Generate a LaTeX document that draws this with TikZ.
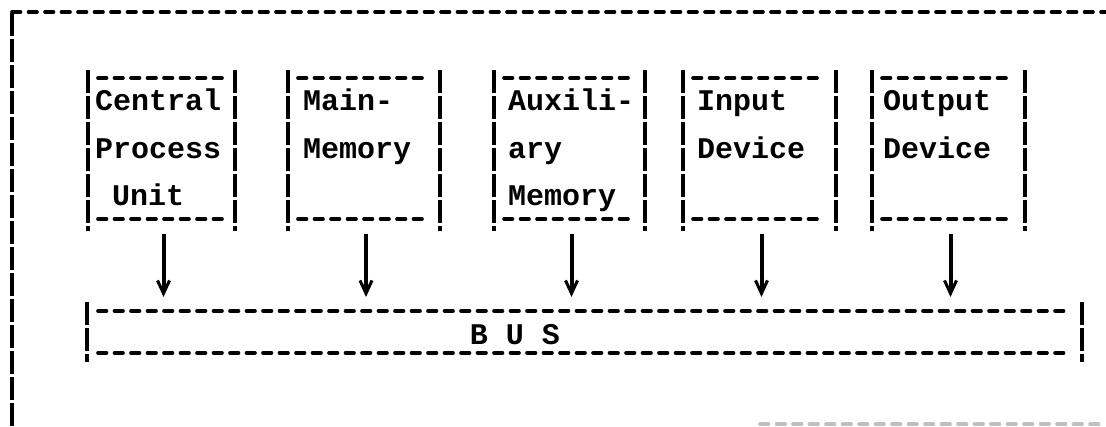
\documentclass[tikz,border=0pt]{standalone}
\usepackage{fontspec}
\setmonofont{Liberation Mono}
\usetikzlibrary{arrows.meta}
\newcommand\drawtbox[1]{%
  \draw[vbar] (#1.north west) -- (#1.south west);
  \draw[vbar] (#1.north east) -- (#1.south east);
  \draw[hdash] ([xshift=10pt,yshift=-8pt]#1.north west) -- ([xshift=-12pt,yshift=-8pt]#1.north east);
  \draw[hdash] ([xshift=10pt,yshift=12pt]#1.south west) -- ([xshift=-12pt,yshift=12pt]#1.south east);
}
\begin{document}
\begin{tikzpicture}[x=1pt,y=-1pt,
  vbar/.style={line width=4.6pt, dash pattern=on 23pt off 3pt},
  hdash/.style={line width=3.6pt, line cap=round, dash pattern=on 8.5pt off 8pt},
  boxn/.style={inner sep=0pt, outer sep=0pt, minimum width=#1},
  txt/.style={inner sep=0pt, anchor=base west, font=\fontsize{30}{30}\selectfont\ttfamily\bfseries},
  arr/.style={line width=4pt, -{Straight Barb[length=13pt,width=12pt,line width=3pt]}}]
\useasboundingbox (0,0) rectangle (1106,426);
% outer frame
\coordinate (f1) at (12,426);
\coordinate (f2) at (12,12);
\coordinate (f3) at (1106,12);
\coordinate (g1) at (760,424);
\coordinate (g2) at (1106,424);
\draw[vbar] (f1) -- (f2);
\draw[hdash] (f2) -- (f3);
\draw[hdash, black!25] (g1) -- (g2);
% boxes
\node[boxn=147pt, minimum height=161pt] (cpu) at (161.5,150.5) {};
\node[boxn=152pt, minimum height=161pt] (mem) at (364,150.5) {};
\node[boxn=151pt, minimum height=161pt] (aux) at (569.5,150.5) {};
\node[boxn=153pt, minimum height=161pt] (inp) at (759.5,150.5) {};
\node[boxn=153pt, minimum height=161pt] (out) at (948.5,150.5) {};
\drawtbox{cpu}
\drawtbox{mem}
\drawtbox{aux}
\drawtbox{inp}
\drawtbox{out}
% bus
\node[boxn=995pt, minimum height=60pt] (bus) at (584.5,332) {};
\draw[vbar] (bus.north west) -- (bus.south west);
\draw[vbar] (bus.north east) -- (bus.south east);
\draw[hdash] ([xshift=11pt,yshift=-9pt]bus.north west) -- ([xshift=-12pt,yshift=-9pt]bus.north east);
\draw[hdash] ([xshift=11pt,yshift=9pt]bus.south west) -- ([xshift=-12pt,yshift=9pt]bus.south east);
\node[txt, anchor=base] (bust) at (515,344) {B U S};
% texts
\node[txt] (cpu1) at (95,110) {Central};
\node[txt] (cpu2) at (95,158) {Process};
\node[txt] (cpu3) at (112,205) {Unit};
\node[txt] (mem1) at (303,110) {Main-};
\node[txt] (mem2) at (303,158) {Memory};
\node[txt] (aux1) at (508,110) {Auxili-};
\node[txt] (aux2) at (508,158) {ary};
\node[txt] (aux3) at (508,205) {Memory};
\node[txt] (inp1) at (697,110) {Input};
\node[txt] (inp2) at (697,158) {Device};
\node[txt] (out1) at (883,110) {Output};
\node[txt] (out2) at (883,158) {Device};
% arrows
\foreach \b in {cpu,mem,aux,inp,out}{
  \draw[arr] ([xshift=2pt,yshift=-3pt]\b.south) -- ([xshift=2pt,yshift=5pt]\b.south |- bus.north);
}
\end{tikzpicture}
\end{document}
